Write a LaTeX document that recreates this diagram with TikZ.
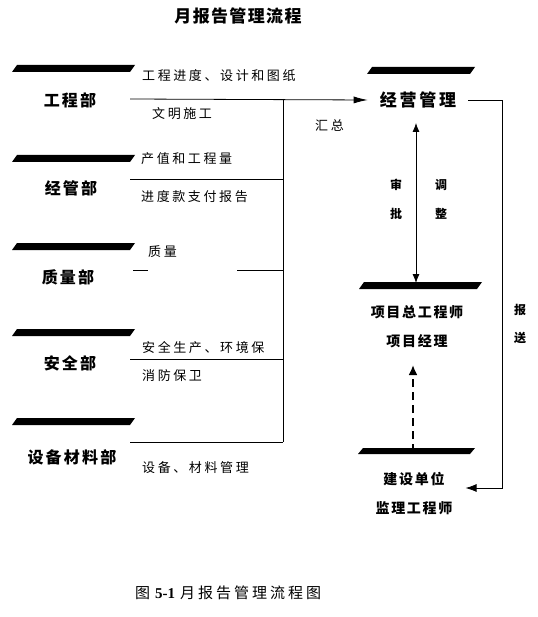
\documentclass[tikz,border=0pt]{standalone}
\usepackage{fontspec}
\setmainfont{Liberation Serif}
\newfontfamily\cjk{Noto Sans CJK SC}
\usetikzlibrary{arrows.meta}

\tikzset{
  depto/.style={font=\cjk\bfseries\fontsize{16}{18}\selectfont\addfontfeature{LetterSpace=14}},
  cabeca/.style={font=\cjk\bfseries\fontsize{17}{19}\selectfont\addfontfeature{LetterSpace=16}},
  cargo/.style={font=\cjk\bfseries\fontsize{14}{29}\selectfont\addfontfeature{LetterSpace=12}, align=center},
  info/.style={font=\cjk\fontsize{13}{15}\selectfont\addfontfeature{LetterSpace=20}, anchor=west, inner sep=0pt},
  letra/.style={font=\cjk\bfseries\fontsize{12}{14}\selectfont, inner sep=0pt},
  fluxo/.style={line width=0.8pt},
}

\begin{document}
\begin{tikzpicture}[x=1pt, y=-1pt]
    \useasboundingbox (0,0) rectangle (537,617);

    % título
    \node[font=\cjk\bfseries\fontsize{17}{19}\selectfont\addfontfeature{LetterSpace=8}] (tit) at (238,16) {月报告管理流程};

    % barras
    \foreach \y in {65,155,243,329,418}
        \fill (12+5,\y) -- (135,\y) -- (135-5,\y+7) -- (12,\y+7) -- cycle;
    \foreach \xa/\xb/\y/\h in {367/475/67/7, 359/482/282/7, 358/475/448/6}
        \fill (\xa+5,\y) -- (\xb,\y) -- (\xb-5,\y+\h) -- (\xa,\y+\h) -- cycle;

    % departamentos
    \node[depto] (eng) at (70,100) {工程部};
    \node[depto] (ger) at (71,188) {经管部};
    \node[depto] (qua) at (68,277) {质量部};
    \node[depto] (seg) at (70,363) {安全部};
    \node[depto] (mat) at (72,457) {设备材料部};

    % lado direito
    \node[cabeca, inner xsep=12pt] (adm) at (418,100) {经营管理};
    \node[cargo] (pm) at (417,327) {项目总工程师\\项目经理};
    \node[cargo, inner xsep=13pt] (own) at (414,494) {建设单位\\监理工程师};

    % pontos das linhas
    \coordinate (l1) at (130,99);
    \coordinate (l2) at (130,179);
    \coordinate (l3) at (133,270);
    \coordinate (l3b) at (148,270);
    \coordinate (l3c) at (237,270);
    \coordinate (l4) at (130,359);
    \coordinate (l5) at (130,442);
    \coordinate (bus) at (283,99);
    \coordinate (busb) at (283,442);
    \coordinate (rt) at (502,488);
    \coordinate (ap) at (416,123);
    \coordinate (ab) at (416,283);
    \coordinate (dp) at (413,365);
    \coordinate (db) at (413,452);

    % linhas
    \draw[fluxo, -{Latex[length=14pt,width=7pt]}] (l1) -- (adm.west);
    \draw[fluxo] (bus) -- (busb);
    \draw[fluxo] (l2) -- (l2 -| bus);
    \draw[fluxo] (l3) -- (l3b);
    \draw[fluxo] (l3c) -- (l3c -| bus);
    \draw[fluxo] (l4) -- (l4 -| bus);
    \draw[fluxo] (l5) -- (busb);
    \draw[fluxo, -{Latex[length=11pt,width=8pt]}] (adm.east) -| (rt) -- (rt -| own.east);
    \draw[fluxo, {Latex[length=9pt,width=7pt]}-{Latex[length=9pt,width=7pt]}] (ap) -- (ab);
    \draw[line width=2pt, dash pattern=on 8pt off 5pt, -{Latex[length=10pt,width=9pt]}] (db) -- (dp);

    % rótulos
    \node[info] (t1) at (142,76) {工程进度、设计和图纸};
    \node[info] (t2) at (152,114) {文明施工};
    \node[info] (t3) at (141,159) {产值和工程量};
    \node[info] (t4) at (141,197) {进度款支付报告};
    \node[info] (t5) at (148,252) {质量};
    \node[info] (t6) at (142,348) {安全生产、环境保};
    \node[info] (t7) at (142,376) {消防保卫};
    \node[info] (t8) at (142,468) {设备、材料管理};
    \node[info] (hz) at (315,125) {汇总};
    \node[letra] (s1) at (396,185) {审};
    \node[letra] (s2) at (396,214) {批};
    \node[letra] (s3) at (441,185) {调};
    \node[letra] (s4) at (441,214) {整};
    \node[letra] (r1) at (520,310) {报};
    \node[letra] (r2) at (520,338) {送};

    % legenda
    \node[font=\cjk\fontsize{15}{17}\selectfont, anchor=west, inner sep=0pt] (leg) at (135,593)
        {图\hspace{5pt}{\rmfamily\bfseries 5-1}\hspace{5pt}\addfontfeature{LetterSpace=20}月报告管理流程图};
\end{tikzpicture}
\end{document}
